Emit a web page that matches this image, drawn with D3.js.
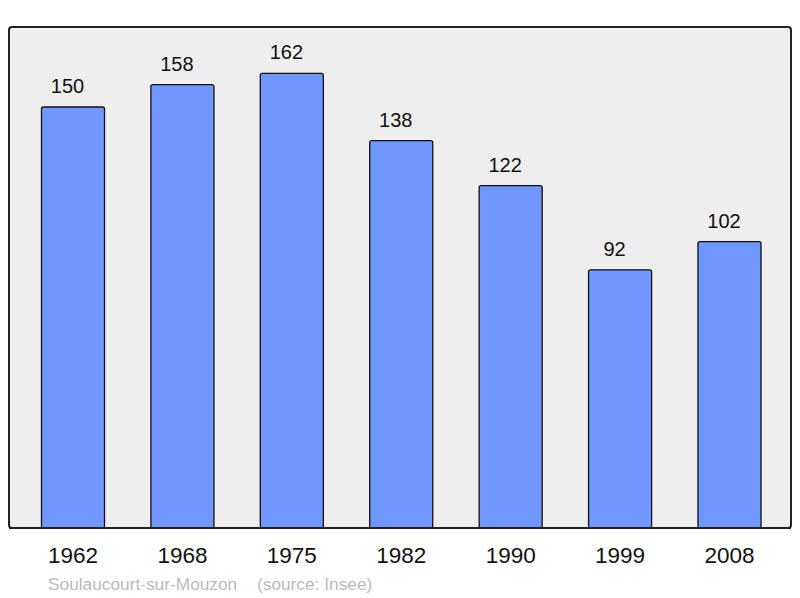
<!DOCTYPE html>
<html>
<head>
<meta charset="utf-8">
<script src="https://cdn.jsdelivr.net/npm/d3@7"></script>
<style>
  body { margin: 0; background: #fff; }
  text { font-family: "Liberation Sans", Arial, sans-serif; }
</style>
</head>
<body>
<div id="chart"></div>
<script>
// population data
const years = ["1962", "1968", "1975", "1982", "1990", "1999", "2008"];
const population = [150, 158, 162, 138, 122, 92, 102];
const commune = "Soulaucourt-sur-Mouzon";
const source = "(source: Insee)";

const width = 800, height = 598;
const frame = {left: 9, top: 27, right: 791, bottom: 528};

const svg = d3.select("#chart").append("svg")
  .attr("width", width)
  .attr("height", height);

// plot background
svg.append("rect")
  .attr("x", frame.left)
  .attr("y", frame.top)
  .attr("width", frame.right - frame.left)
  .attr("height", frame.bottom - frame.top)
  .attr("rx", 3)
  .attr("fill", "#eeeeee")
  .attr("stroke", "#222")
  .attr("stroke-width", 2);

const x = d3.scaleBand()
  .domain(years)
  .range([18.3, 784.2])
  .paddingInner(0.424)
  .paddingOuter(0.212);

const y = d3.scaleLinear()
  .domain([0, 178.5])
  .range([frame.bottom, frame.top]);

const data = years.map((yr, i) => ({year: yr, value: population[i]}));

svg.selectAll(".bar")
  .data(data)
  .enter().append("rect")
  .attr("class", "bar")
  .attr("x", d => x(d.year))
  .attr("y", d => y(d.value))
  .attr("width", x.bandwidth())
  .attr("height", d => y(0) - y(d.value))
  .attr("rx", 2)
  .attr("fill", "#7097ff")
  .attr("stroke", "#111")
  .attr("stroke-width", 1.3);

// value labels above bars (sit a little left of the bar centre)
svg.selectAll(".val")
  .data(data)
  .enter().append("text")
  .attr("class", "val")
  .attr("x", d => x(d.year) + x.bandwidth() / 2 - 5.5)
  .attr("y", d => y(d.value) - 14)
  .attr("text-anchor", "middle")
  .attr("font-size", 20)
  .attr("fill", "#111")
  .text(d => d.value);

// redraw the frame edge over bar bottoms
svg.append("line")
  .attr("x1", frame.left).attr("x2", frame.right)
  .attr("y1", frame.bottom).attr("y2", frame.bottom)
  .attr("stroke", "#222").attr("stroke-width", 2);

// year axis
const xAxis = svg.append("g")
  .attr("transform", `translate(0, ${frame.bottom})`)
  .call(d3.axisBottom(x).tickSize(0).tickPadding(19));
xAxis.select(".domain").remove();
xAxis.selectAll("text")
  .attr("font-size", 22.5)
  .attr("fill", "#111")
  .style("font-family", "'Liberation Sans', Arial, sans-serif");

// footer
svg.append("text")
  .attr("x", 48)
  .attr("y", 590)
  .attr("font-size", 17.3)
  .attr("fill", "#bbb")
  .text(commune);
svg.append("text")
  .attr("x", 257)
  .attr("y", 590)
  .attr("font-size", 17.3)
  .attr("fill", "#bbb")
  .text(source);
</script>
</body>
</html>
